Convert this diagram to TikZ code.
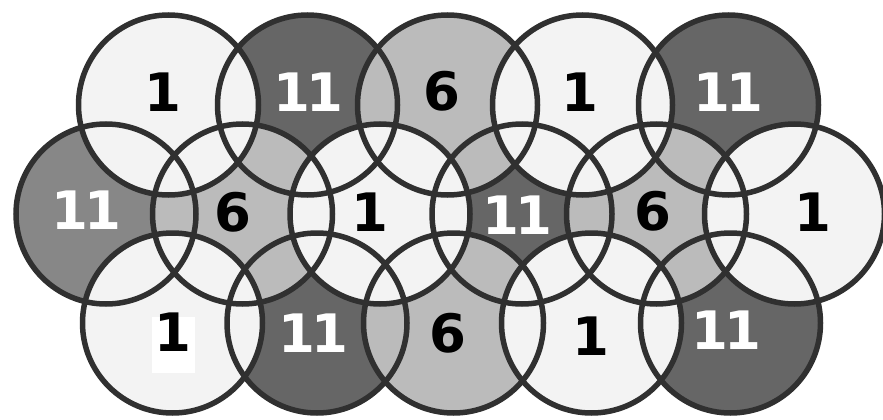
\documentclass[tikz,border=0pt]{standalone}
\usepackage{fontspec}
\usepackage{tikz}
\usepackage{xcolor}
\newfontfamily\cellfont{DejaVu Sans}
\definecolor{ink}{HTML}{303030}
\definecolor{chone}{HTML}{F3F3F3}
\definecolor{chsix}{HTML}{BBBBBB}
\definecolor{cheleven}{HTML}{666666}
\definecolor{chelevenlt}{HTML}{878787}

\begin{document}
\begin{tikzpicture}[
  x=1pt, y=-1pt,
  cell/.style={circle, minimum size=180pt, inner sep=0pt, fill=#1},
  ring/.style={draw=ink, line width=5.5pt},
  num/.style={font=\cellfont\bfseries\fontsize{53}{53}\selectfont, text=#1, inner sep=0pt}
]
\useasboundingbox (0,0) rectangle (883,420);

% darker cells first, lighter cells cover the overlaps
\node[cell=cheleven] (t2) at (307.5,105) {};
\node[cell=cheleven] (t5) at (728.5,105) {};
\node[cell=cheleven] (m4) at (522,214) {};
\node[cell=cheleven] (b2) at (317,323) {};
\node[cell=cheleven] (b5) at (730.5,323) {};
\node[cell=chelevenlt] (m1) at (106,214) {};
\node[cell=chsix] (t3) at (447.5,105) {};
\node[cell=chsix] (m2) at (242.5,214) {};
\node[cell=chsix] (m5) at (656.5,214) {};
\node[cell=chsix] (b3) at (453.5,323) {};
\node[cell=chone] (t1) at (168.5,105) {};
\node[cell=chone] (t4) at (582.5,105) {};
\node[cell=chone] (m3) at (380,214) {};
\node[cell=chone] (m6) at (794.5,214) {};
\node[cell=chone] (b1) at (172.5,323) {};
\node[cell=chone] (b4) at (591.5,323) {};

\foreach \c in {t1,t2,t3,t4,t5,m1,m2,m3,m4,m5,m6,b1,b2,b3,b4,b5}
  \draw[ring] (\c.center) circle[radius=90pt];

% channel numbers
\node[fill=white, minimum width=43pt, minimum height=56pt, inner sep=0pt] (patch) at (173.5,345) {};
\node[num=black] (n-t1) at (163,92) {1};
\node[num=white] (n-t2) at (308,92) {1\kern-4pt1};
\node[num=black] (n-t3) at (442,91) {6};
\node[num=black] (n-t4) at (580,92) {1};
\node[num=white] (n-t5) at (728,92) {1\kern-4pt1};
\node[num=white] (n-m1) at (86,210) {1\kern-4pt1};
\node[num=black] (n-m2) at (233,212) {6};
\node[num=black] (n-m3) at (370,212) {1};
\node[num=white] (n-m4) at (517,215) {1\kern-4pt1};
\node[num=black] (n-m5) at (653,211) {6};
\node[num=black] (n-m6) at (813,212) {1};
\node[num=black] (n-b1) at (173,332) {1};
\node[num=white] (n-b2) at (313,333) {1\kern-4pt1};
\node[num=black] (n-b3) at (448,333) {6};
\node[num=black] (n-b4) at (591,336) {1};
\node[num=white] (n-b5) at (726,330) {1\kern-4pt1};
\end{tikzpicture}
\end{document}
